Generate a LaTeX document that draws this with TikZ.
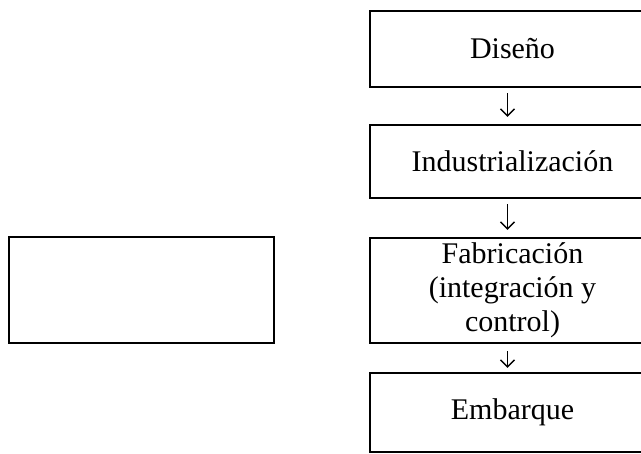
\documentclass[tikz,border=0pt]{standalone}
\usepackage{fontspec}
\setmainfont{Liberation Serif}
\usetikzlibrary{arrows.meta}
\tikzset{caja/.style={draw,line width=2.2pt,minimum width=285pt,inner sep=0pt,align=center,font=\fontsize{30}{34}\selectfont},
  flecha/.style={line width=1.5pt,-{Straight Barb[length=7pt,width=14pt]}}}
\begin{document}
\begin{tikzpicture}[x=1pt,y=-1pt]
  \useasboundingbox (0,0) rectangle (641,454);
  \node[caja,minimum height=76pt] (dis) at (512.5,49) {Diseño};
  \node[caja,minimum height=73pt] (ind) at (512.5,161.5) {Industrialización};
  \node[caja,minimum height=105pt] (fab) at (512.5,290.5) {Fabricación\\(integración y\\control)};
  \node[caja,minimum height=79pt] (emb) at (512.5,412.5) {Embarque};
  \node[caja,minimum width=265pt,minimum height=106pt] (vacio) at (141.5,290) {};
  \draw[flecha,shorten <=5pt,shorten >=7pt] ([xshift=-5pt]dis.south) -- ([xshift=-5pt]ind.north);
  \draw[flecha,shorten <=5pt,shorten >=7pt] ([xshift=-5pt]ind.south) -- ([xshift=-5pt]fab.north);
  \draw[flecha,shorten <=7pt,shorten >=4pt] ([xshift=-5pt]fab.south) -- ([xshift=-5pt]emb.north);
\end{tikzpicture}
\end{document}
